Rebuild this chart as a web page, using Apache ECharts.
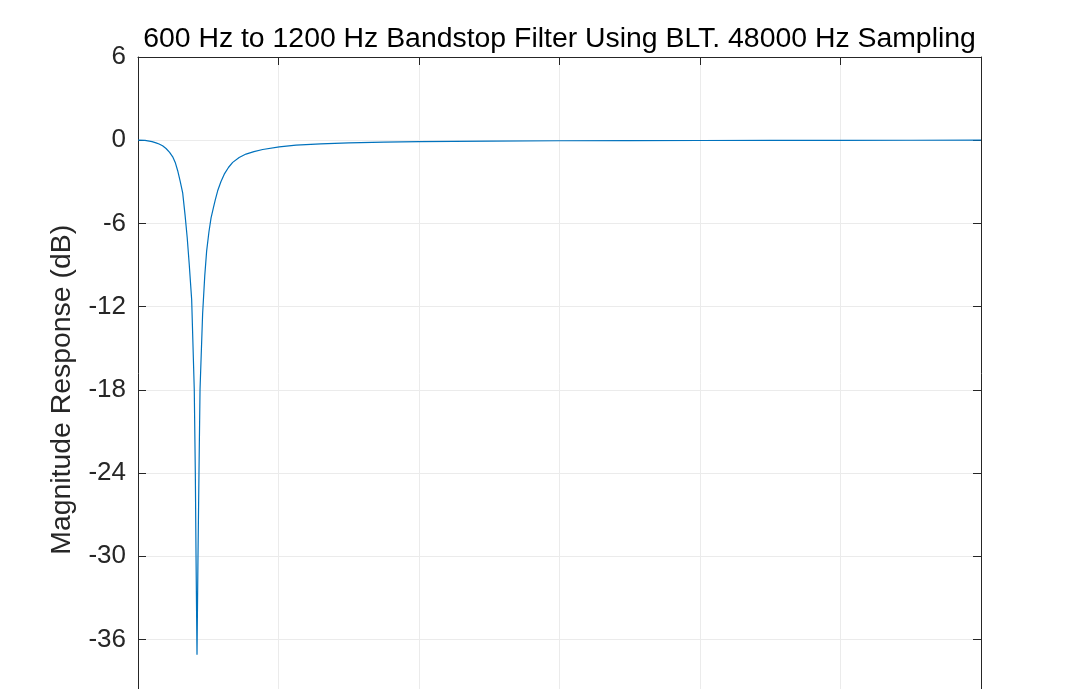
<!DOCTYPE html>
<html>
<head>
<meta charset="utf-8">
<script src="https://cdn.jsdelivr.net/npm/echarts@6/dist/echarts.min.js"></script>
<style>
html,body{margin:0;padding:0;background:#fff;}
#chart{width:1080px;height:689px;}
</style>
</head>
<body>
<div id="chart"></div>
<script>
// Frequency (Hz) and magnitude (dB)
const freqHz = [0, 100, 200, 256, 300, 350, 399, 450, 494, 530, 565, 600, 636, 670, 700, 730, 764, 801, 816, 826, 840,
  854, 868, 883, 920, 950, 977, 1010, 1040, 1072, 1100, 1134, 1180, 1228, 1290, 1348, 1440, 1537, 1650, 1775, 2011, 2249,
  2600, 3000, 3500, 4000, 5000, 6000, 7000, 8000, 9000, 10000, 11000, 12000];
const magDb = [0, -0.01, -0.1, -0.19, -0.27, -0.4, -0.6, -0.88, -1.2, -1.6, -2.2, -2.95, -3.8, -5.4, -7.0, -9.0, -11.5, -18, -24, -30, -37.1,
  -30, -24, -18, -12.5, -9.8, -8.0, -6.6, -5.6, -4.9, -4.3, -3.65, -3.0, -2.45, -1.95, -1.6, -1.25, -1.0, -0.82, -0.67, -0.48, -0.36,
  -0.26, -0.19, -0.14, -0.1, -0.06, -0.04, -0.03, -0.02, -0.015, -0.01, -0.005, 0];
const yTicks = [6, 0, -6, -12, -18, -24, -30, -36, -42];
const xTicks = [0, 2000, 4000, 6000, 8000, 10000, 12000];
const titleText = '600 Hz to 1200 Hz Bandstop Filter Using BLT. 48000 Hz Sampling';
const yName = 'Magnitude Response (dB)';

const font = '"Liberation Sans", Arial, Helvetica, sans-serif';
const axisCol = '#262626';
const gridCol = '#ebebeb';

const chart = echarts.init(document.getElementById('chart'), null, {renderer: 'canvas'});
const yMin = Math.min(...yTicks), yMax = Math.max(...yTicks);
const xMin = Math.min(...xTicks), xMax = Math.max(...xTicks);
const common = {
  axisLine: {show: true, onZero: false, lineStyle: {color: axisCol, width: 1}},
  axisTick: {show: true, inside: true, length: 8, lineStyle: {color: axisCol, width: 1}},
};
chart.setOption({
  animation: false,
  backgroundColor: '#fff',
  title: {
    text: titleText,
    left: 559.5, top: 25, textAlign: 'center', padding: 0,
    textStyle: {fontFamily: font, fontSize: 28.4, fontWeight: 'normal', color: '#000'}
  },
  grid: {left: 138, top: 57, width: 843, height: 665.6, containLabel: false, outerBoundsMode: 'none'},
  xAxis: [
    Object.assign({
      type: 'value', min: xMin, max: xMax, interval: 2000, position: 'bottom',
      axisLabel: {show: false},
      splitLine: {show: true, lineStyle: {color: gridCol, width: 1}}
    }, common),
    Object.assign({
      type: 'value', min: xMin, max: xMax, interval: 2000, position: 'top',
      axisLabel: {show: false}, splitLine: {show: false}
    }, common)
  ],
  yAxis: [
    Object.assign({
      type: 'value', min: yMin, max: yMax, interval: 6, position: 'left',
      name: yName, nameLocation: 'middle', nameGap: 62, nameRotate: 90,
      nameTextStyle: {fontFamily: font, fontSize: 28.4, color: axisCol},
      axisLabel: {fontFamily: font, fontSize: 26, color: axisCol, margin: 12},
      splitLine: {show: true, lineStyle: {color: gridCol, width: 1}}
    }, common),
    Object.assign({
      type: 'value', min: yMin, max: yMax, interval: 6, position: 'right',
      axisLabel: {show: false}, splitLine: {show: false}
    }, common)
  ],
  series: [{
    type: 'line',
    data: freqHz.map((f, i) => [f, magDb[i]]),
    showSymbol: false, symbol: 'none', smooth: false,
    lineStyle: {color: '#0072BD', width: 1.2},
    clip: true
  }]
});
</script>
</body>
</html>
